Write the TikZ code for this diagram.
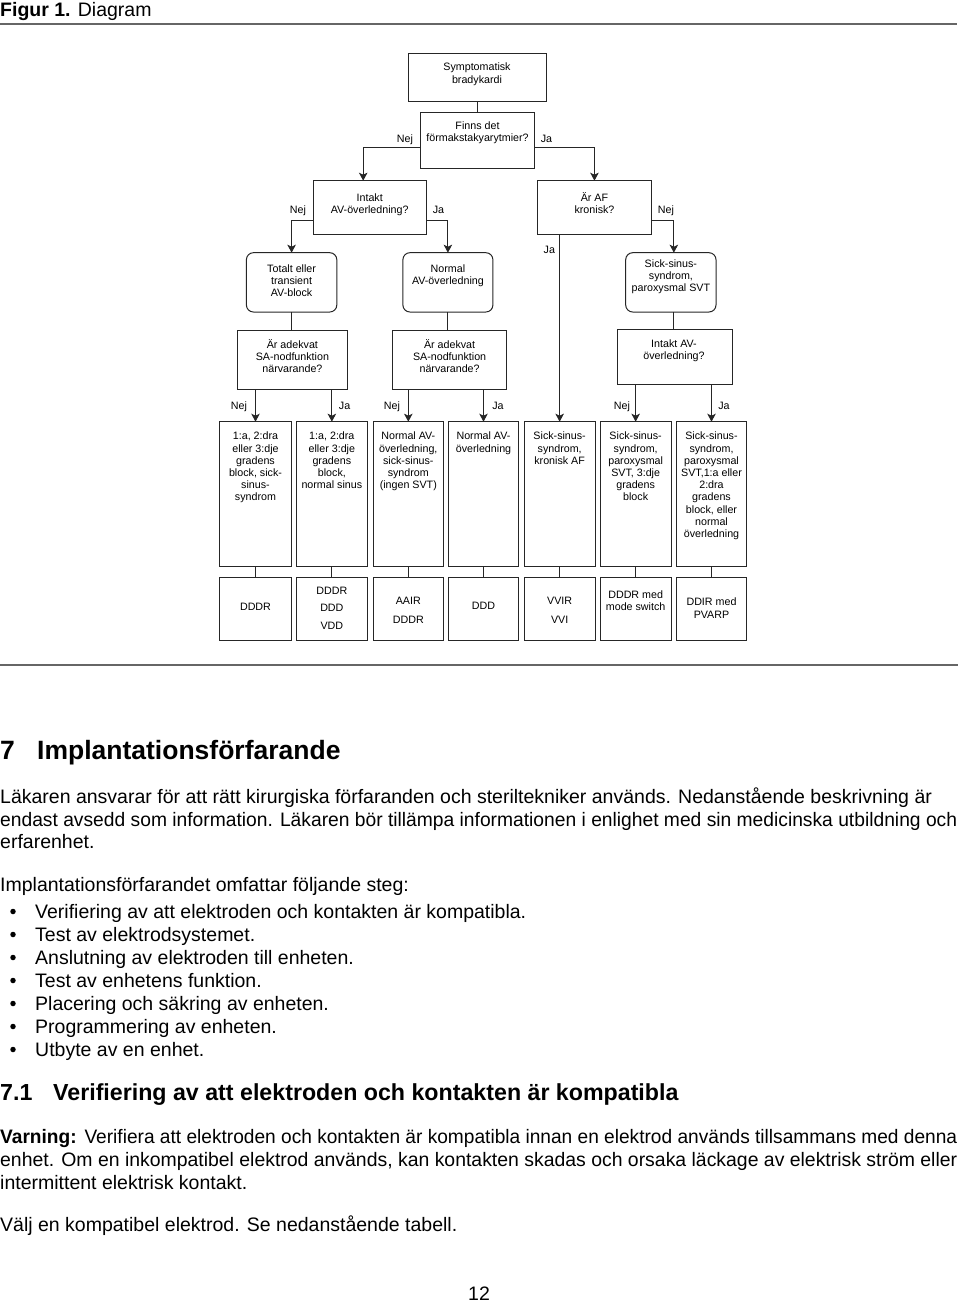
\documentclass[tikz,border=0pt]{standalone}
\usepackage{fontspec}
\usepackage{graphicx}
\setmainfont{Liberation Sans}
\usetikzlibrary{arrows.meta,calc}
\newcommand{\dfont}{\fontsize{10.7}{12.2}\selectfont}
\newcommand{\bfont}{\fontsize{19.5}{23}\selectfont}
\newcommand{\BX}[6]{\node[#1, minimum width={#4-#3}, minimum height={#6-#5}] (#2) at ({(#3+#4)/2},{(#5+#6)/2}) {};}
\newcommand{\TX}[4]{\node[txt] (#1) at (#2,{#3-6.1}) {\rule{0pt}{10pt}#4};}
\newcommand{\LB}[4]{\node[lab] (#1) at (#2,{#3+3.9}) {#4};}
\newcommand{\BL}[4]{\node[body] (#1) at (#2,#3) {#4};}
\newcommand{\fitw}[2]{\resizebox{#1}{\height}{#2}}
\tikzset{
 box/.style={draw=black!85, line width=1pt, inner sep=0pt, outer sep=0pt},
 rbox/.style={box, rounded corners=7pt},
 txt/.style={font=\dfont, align=center, inner sep=0pt, anchor=north},
 lab/.style={font=\dfont, inner sep=0pt, anchor=base},
 body/.style={font=\bfont, inner sep=0pt, anchor=base west},
 arr/.style={draw=black!85, line width=1pt, -{Stealth[length=8pt,width=8.5pt,inset=2pt]}},
 ln/.style={draw=black!85, line width=1pt},
 rulestyle/.style={draw=black!60, line width=2pt},
 bullet/.style={circle, fill=black, inner sep=0pt, minimum size=5.5pt},
}
\begin{document}
\begin{tikzpicture}[x=1pt,y=-1pt]
\useasboundingbox (0,0) rectangle (960,1302);

% header
\node[body] (fig) at (0,16) {\textbf{Figur 1.} Diagram};
\coordinate (r1a) at (0,24.3); \coordinate (r1b) at (957,24.3);
\draw[rulestyle] (r1a) -- (r1b);

% boxes
\BX{box}{symp}{408}{546}{53}{101}
\BX{box}{finns}{420.7}{534.3}{112}{168}
\BX{box}{intakt}{313}{426.4}{180.7}{234.3}
\BX{box}{araf}{537.5}{651.4}{180.7}{234.3}
\BX{rbox}{totalt}{246.4}{336.8}{252.7}{312}
\BX{rbox}{normal}{402.9}{492.9}{252.7}{312}
\BX{rbox}{sick}{625.7}{716}{252.7}{312}
\BX{box}{sa1}{237.9}{347}{330}{389.3}
\BX{box}{sa2}{392.9}{506.4}{330}{389.3}
\BX{box}{iav}{617.9}{732}{329}{384}

\BX{box}{leaf1}{219.3}{291.7}{421.7}{566.7}
\BX{box}{leaf2}{296.7}{367}{421.7}{566.7}
\BX{box}{leaf3}{373.3}{443.3}{421.7}{566.7}
\BX{box}{leaf4}{448.3}{518.7}{421.7}{566.7}
\BX{box}{leaf5}{524.3}{595}{421.7}{566.7}
\BX{box}{leaf6}{600.3}{671}{421.7}{566.7}
\BX{box}{leaf7}{676.3}{746.7}{421.7}{566.7}

\BX{box}{mode1}{219.3}{291.7}{577.3}{640.3}
\BX{box}{mode2}{296.7}{367}{577.3}{640.3}
\BX{box}{mode3}{373.3}{443.3}{577.3}{640.3}
\BX{box}{mode4}{448.3}{518.7}{577.3}{640.3}
\BX{box}{mode5}{524.3}{595}{577.3}{640.3}
\BX{box}{mode6}{600.3}{671}{577.3}{640.3}
\BX{box}{mode7}{676.3}{746.7}{577.3}{640.3}

% texts
\TX{sympt}{477}{66.7}{Symptomatisk\\bradykardi}
\TX{finnst}{477.5}{125}{Finns det\\förmakstakyarytmier?}
\TX{intaktt}{369.7}{197.3}{Intakt\\AV-överledning?}
\TX{araft}{594.5}{197.3}{Är AF\\kronisk?}
\TX{totaltt}{291.6}{268.3}{Totalt eller\\transient\\AV-block}
\TX{normalt}{447.9}{268.3}{Normal\\AV-överledning}
\TX{sickt}{670.9}{263.3}{Sick-sinus-\\syndrom,\\paroxysmal SVT}
\TX{sa1t}{292.4}{344}{Är adekvat\\SA-nodfunktion\\närvarande?}
\TX{sa2t}{449.6}{344}{Är adekvat\\SA-nodfunktion\\närvarande?}
\TX{iavt}{674}{343.3}{Intakt AV-\\överledning?}

\TX{leaf1t}{255.5}{435.7}{1:a, 2:dra\\eller 3:dje\\gradens\\block, sick-\\sinus-\\syndrom}
\TX{leaf2t}{331.85}{435.7}{1:a, 2:dra\\eller 3:dje\\gradens\\block,\\normal sinus}
\TX{leaf3t}{408.3}{435.7}{Normal AV-\\överledning,\\sick-sinus-\\syndrom\\(ingen SVT)}
\TX{leaf4t}{483.5}{435.7}{Normal AV-\\överledning}
\TX{leaf5t}{559.65}{435.7}{Sick-sinus-\\syndrom,\\kronisk AF}
\TX{leaf6t}{635.65}{435.7}{Sick-sinus-\\syndrom,\\paroxysmal\\SVT, 3:dje\\gradens\\block}
\TX{leaf7t}{711.5}{435.7}{Sick-sinus-\\syndrom,\\paroxysmal\\SVT,1:a eller\\2:dra\\gradens\\block, eller\\normal\\överledning}

\TX{mode1t}{255.5}{606}{DDDR}
\TX{mode2t}{331.85}{590}{DDDR\\[5.3pt]DDD\\[5.3pt]VDD}
\TX{mode3t}{408.3}{600.7}{AAIR\\[6.1pt]DDDR}
\TX{mode4t}{483.5}{605.7}{DDD}
\TX{mode5t}{559.65}{600.7}{VVIR\\[6.4pt]VVI}
\TX{mode6t}{635.65}{594.3}{DDDR med\\mode switch}
\TX{mode7t}{711.5}{601.7}{DDIR med\\PVARP}

% labels
\LB{l1}{405}{138.3}{Nej}
\LB{l2}{546.5}{138.3}{Ja}
\LB{l3}{298}{210}{Nej}
\LB{l4}{438.5}{210}{Ja}
\LB{l5}{666}{210}{Nej}
\LB{l6}{549.3}{249.3}{Ja}
\LB{l7}{239}{405.7}{Nej}
\LB{l8}{344.6}{405.7}{Ja}
\LB{l9}{392}{405.7}{Nej}
\LB{l10}{498}{405.7}{Ja}
\LB{l11}{622}{405.7}{Nej}
\LB{l12}{724}{405.7}{Ja}

% connectors
\draw[ln] (symp.south) -- (symp.south |- finns.north);
\draw[arr] ([yshift=-7.3pt]finns.west) -| ([xshift=-6.5pt]intakt.north);
\draw[arr] ([yshift=-7.3pt]finns.east) -| (araf.north);
\draw[arr] ([yshift=-12.5pt]intakt.west) -| (totalt.north);
\draw[arr] ([yshift=-12.5pt]intakt.east) -| (normal.north);
\draw[arr] ([yshift=-12.5pt]araf.east) -| ([xshift=3pt]sick.north);
\draw[arr] (leaf5.north |- araf.south) -- (leaf5.north);
\draw[ln] (totalt.south) -- (totalt.south |- sa1.north);
\draw[ln] (normal.south) -- (normal.south |- sa2.north);
\draw[ln] ([xshift=3pt]sick.south) -- ([xshift=3pt]sick.south |- iav.north);
\draw[arr] (leaf1.north |- sa1.south) -- (leaf1.north);
\draw[arr] (leaf2.north |- sa1.south) -- (leaf2.north);
\draw[arr] (leaf3.north |- sa2.south) -- (leaf3.north);
\draw[arr] (leaf4.north |- sa2.south) -- (leaf4.north);
\draw[arr] (leaf6.north |- iav.south) -- (leaf6.north);
\draw[arr] (leaf7.north |- iav.south) -- (leaf7.north);
\foreach \i in {1,...,7} {\draw[ln] (leaf\i.south) -- (mode\i.north);}

% rule
\coordinate (r2a) at (0,665); \coordinate (r2b) at (958,665);
\draw[rulestyle] (r2a) -- (r2b);

% section 7
\node[anchor=base west, inner sep=0pt, font=\fontsize{26.5}{30}\selectfont\bfseries] (h7n) at (0,759) {7};
\node[anchor=base west, inner sep=0pt, font=\fontsize{26.5}{30}\selectfont\bfseries] (h7) at (37,759) {Implantationsförfarande};

\BL{p1}{0}{803}{Läkaren ansvarar för att rätt kirurgiska förfaranden och steriltekniker används. Nedanstående beskrivning är}
\BL{p2}{0}{826}{\fitw{957pt}{endast avsedd som information. Läkaren bör tillämpa informationen i enlighet med sin medicinska utbildning och}}
\BL{p3}{0}{848}{erfarenhet.}
\BL{p4}{0}{891}{Implantationsförfarandet omfattar följande steg:}

\node[bullet] (b1) at (13,911.5) {};
\node[bullet] (b2) at (13,934.5) {};
\node[bullet] (b3) at (13,957.5) {};
\node[bullet] (b4) at (13,980.5) {};
\node[bullet] (b5) at (13,1003.5) {};
\node[bullet] (b6) at (13,1026.5) {};
\node[bullet] (b7) at (13,1049.5) {};
\BL{i1}{35}{918}{Verifiering av att elektroden och kontakten är kompatibla.}
\BL{i2}{35}{941}{Test av elektrodsystemet.}
\BL{i3}{35}{964}{Anslutning av elektroden till enheten.}
\BL{i4}{35}{987}{Test av enhetens funktion.}
\BL{i5}{35}{1010}{Placering och säkring av enheten.}
\BL{i6}{35}{1033}{Programmering av enheten.}
\BL{i7}{35}{1056}{Utbyte av en enhet.}

\node[anchor=base west, inner sep=0pt, font=\fontsize{23.2}{27}\selectfont\bfseries] (h71n) at (0,1100) {7.1};
\node[anchor=base west, inner sep=0pt, font=\fontsize{23.2}{27}\selectfont\bfseries] (h71) at (53,1100) {Verifiering av att elektroden och kontakten är kompatibla};

\BL{w1}{0}{1143}{\fitw{957pt}{\textbf{Varning:}\hspace{8pt}Verifiera att elektroden och kontakten är kompatibla innan en elektrod används tillsammans med denna}}
\BL{w2}{0}{1166}{\fitw{957pt}{enhet. Om en inkompatibel elektrod används, kan kontakten skadas och orsaka läckage av elektrisk ström eller}}
\BL{w3}{0}{1189}{intermittent elektrisk kontakt.}
\BL{v1}{0}{1231}{Välj en kompatibel elektrod. Se nedanstående tabell.}

\node[anchor=base, inner sep=0pt, font=\bfont] (pg) at (479,1300) {12};
\end{tikzpicture}
\end{document}
